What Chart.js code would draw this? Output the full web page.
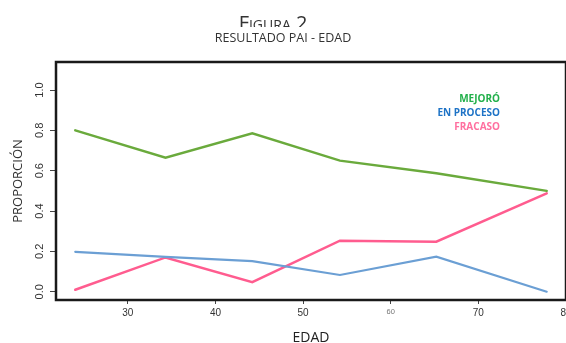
<!DOCTYPE html>
<html>
<head>
<meta charset="utf-8">
<script src="https://cdn.jsdelivr.net/npm/chart.js@4.4.1/dist/chart.umd.min.js"></script>
<style>
body { margin: 0; background: #fff; overflow: hidden; }
#wrap { position: relative; width: 566px; height: 343px; }
/* the figure caption is cut off at the top of the chart picture */
#figura { position: absolute; left: 0; top: 0; width: 546px; height: 27px; overflow: hidden;
  font-family: 'Open Sans'; font-size: 20px; line-height: 20px; font-variant: small-caps; color: #333; }
#figura span { position: absolute; left: 0; right: 0; top: 12.5px; text-align: center; }
</style>
</head>
<body>
<div id="wrap">
  <canvas id="myChart" width="566" height="343"></canvas>
  <div id="figura"><span>Figura 2</span></div>
</div>
<script>
// values
const edad = [24, 34.3, 44.2, 54.2, 65.2, 77.8];
const mejoro = [0.80, 0.665, 0.785, 0.65, 0.587, 0.50];
const enProceso = [0.198, 0.173, 0.152, 0.083, 0.174, 0.0];
const fracaso = [0.01, 0.17, 0.047, 0.253, 0.248, 0.488];

const seriesNames = ['MEJORÓ', 'EN PROCESO', 'FRACASO'];
const edadTicks = [30, 40, 50, 60, 70, 80];
const proporcionTicks = [0, 0.2, 0.4, 0.6, 0.8, 1.0];

const lineColors = ['#6aaa3c', '#6b9fd4', '#ff5c8f'];
const labelColors = ['#22b04b', '#1e73c6', '#ff6f9f'];

function toPoints(values) {
    return edad.map((x, i) => ({ x: x, y: values[i] }));
}

// black frame round the plot area
const boxPlugin = {
    id: 'boxPlugin',
    afterDraw(chart) {
        const a = chart.chartArea;
        const ctx = chart.ctx;
        ctx.save();
        ctx.strokeStyle = '#1a1a1a';
        ctx.lineWidth = 2.5;
        ctx.strokeRect(a.left, a.top, a.right - a.left, a.bottom - a.top);
        ctx.restore();
    }
};

// coloured text legend, top right inside the plot
const textLegend = {
    id: 'textLegend',
    afterDraw(chart) {
        const ctx = chart.ctx;
        ctx.save();
        ctx.font = 'bold 10px "Open Sans"';
        ctx.textAlign = 'right';
        ctx.textBaseline = 'middle';
        seriesNames.forEach((name, i) => {
            ctx.fillStyle = labelColors[i];
            ctx.fillText(name, 500, 99.5 + i * 14);
        });
        ctx.restore();
    }
};

const data = {
    datasets: [
        { label: seriesNames[0], data: toPoints(mejoro), borderColor: lineColors[0], borderWidth: 2.5 },
        { label: seriesNames[1], data: toPoints(enProceso), borderColor: lineColors[1], borderWidth: 2.2 },
        { label: seriesNames[2], data: toPoints(fracaso), borderColor: lineColors[2], borderWidth: 2.5 }
    ]
};

const config = {
    type: 'line',
    data: data,
    options: {
        responsive: false,
        animation: false,
        devicePixelRatio: 1,
        layout: { padding: 0 },
        elements: {
            point: { radius: 0 },
            line: { tension: 0, fill: false, borderCapStyle: 'round' }
        },
        plugins: {
            legend: { display: false },
            tooltip: { enabled: false },
            title: {
                display: true,
                text: 'RESULTADO PAI - EDAD',
                color: '#333',
                font: { family: 'Open Sans', size: 12.5, weight: 'normal', lineHeight: 1.2 },
                padding: { top: 31, bottom: 16 }
            }
        },
        scales: {
            x: {
                type: 'linear',
                min: 21.8,
                max: 80,
                afterBuildTicks: s => { s.ticks = edadTicks.map(v => ({ value: v })); },
                afterFit: s => { s.height = 43; s.paddingLeft = 0; s.paddingRight = 0; },
                border: { display: false },
                grid: { drawOnChartArea: false, drawTicks: true, tickLength: 4, color: '#444' },
                ticks: {
                    padding: 3,
                    maxRotation: 0,
                    color: ctx => ctx.tick && ctx.tick.value === 60 ? '#777' : '#333',
                    font: ctx => ({ family: 'Liberation Sans', size: ctx.tick && ctx.tick.value === 60 ? 7.5 : 10 })
                },
                title: {
                    display: true,
                    text: 'EDAD',
                    color: '#222',
                    font: { family: 'Open Sans', size: 14, lineHeight: 1 },
                    padding: { top: 0, bottom: -2 }
                }
            },
            y: {
                min: -0.041,
                max: 1.139,
                afterBuildTicks: s => { s.ticks = proporcionTicks.map(v => ({ value: v })); },
                afterFit: s => { s.width = 56; s.paddingTop = 0; s.paddingBottom = 0; },
                border: { display: false },
                grid: { drawOnChartArea: false, drawTicks: true, tickLength: 6, color: '#444' },
                ticks: {
                    minRotation: 90,
                    maxRotation: 90,
                    crossAlign: 'center',
                    padding: 2,
                    color: '#333',
                    font: { family: 'Liberation Sans', size: 11 },
                    callback: v => v.toFixed(1)
                },
                title: {
                    display: true,
                    text: 'PROPORCIÓN',
                    color: '#333',
                    font: { family: 'Open Sans', size: 13 },
                    padding: { top: 10, bottom: 0 }
                }
            }
        }
    },
    plugins: [boxPlugin, textLegend]
};

var myChartJS = new Chart(document.getElementById('myChart'), config);
</script>
</body>
</html>
